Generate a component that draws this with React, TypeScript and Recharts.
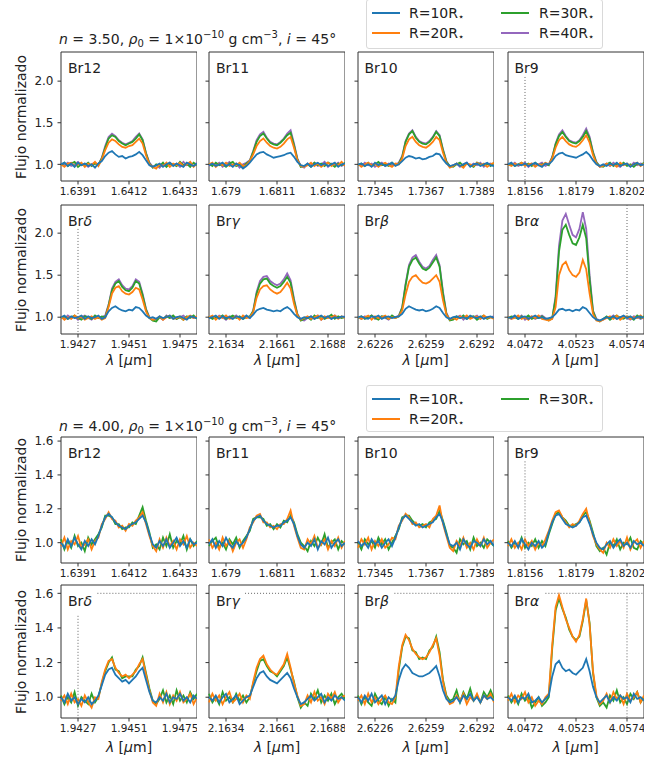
import { LineChart, Line, XAxis, YAxis, ReferenceArea, ReferenceLine } from "recharts";

// tick labels (wavelength, micron)
const br12Ticks = ["1.6391", "1.6412", "1.6433"];
const br11Ticks = ["1.679", "1.6811", "1.6832"];
const br10Ticks = ["1.7345", "1.7367", "1.7389"];
const br9Ticks = ["1.8156", "1.8179", "1.8202"];
const brDeltaTicks = ["1.9427", "1.9451", "1.9475"];
const brGammaTicks = ["2.1634", "2.1661", "2.1688"];
const brBetaTicks = ["2.6226", "2.6259", "2.6292"];
const brAlphaTicks = ["4.0472", "4.0523", "4.0574"];

const topYTicks = [1.0, 1.5, 2.0];
const bottomYTicks = [1.0, 1.2, 1.4, 1.6];

// n = 3.50 spectra (41 samples each)
const n350Br12R10 = [1.00, 1.02, 0.98, 1.01, 0.97, 1.02, 0.99, 1.01, 0.98, 1.00, 0.96, 1.01, 1.04, 1.10, 1.14, 1.16, 1.12, 1.09, 1.10, 1.07, 1.09, 1.10, 1.12, 1.15, 1.11, 1.05, 0.99, 0.97, 0.99, 1.01, 0.97, 1.00, 1.02, 0.98, 1.01, 0.99, 0.97, 1.02, 1.00, 0.98, 1.01];
const n350Br12R20 = [1.00, 0.97, 1.01, 1.02, 0.98, 1.00, 1.02, 0.97, 1.01, 0.99, 1.03, 0.98, 1.06, 1.17, 1.26, 1.30, 1.28, 1.24, 1.21, 1.20, 1.22, 1.23, 1.27, 1.31, 1.25, 1.11, 1.00, 0.97, 0.95, 1.00, 0.98, 1.02, 0.97, 1.01, 0.99, 1.02, 0.98, 1.00, 1.03, 0.97, 1.01];
const n350Br12R30 = [0.99, 1.02, 0.98, 1.01, 1.03, 0.97, 1.00, 0.99, 1.02, 0.98, 1.01, 1.00, 1.07, 1.20, 1.31, 1.35, 1.33, 1.28, 1.25, 1.23, 1.25, 1.27, 1.31, 1.36, 1.29, 1.13, 1.01, 0.96, 1.00, 0.98, 1.02, 0.97, 1.01, 1.00, 0.98, 1.03, 0.99, 1.01, 0.97, 1.02, 0.99];
const n350Br12R40 = [1.01, 0.99, 1.02, 0.98, 1.00, 1.03, 0.99, 1.01, 0.97, 1.00, 1.02, 0.99, 1.08, 1.22, 1.33, 1.37, 1.34, 1.29, 1.26, 1.24, 1.26, 1.28, 1.33, 1.37, 1.30, 1.14, 1.02, 0.97, 0.99, 0.96, 1.01, 0.98, 1.02, 0.99, 1.01, 0.97, 1.03, 0.99, 1.00, 0.98, 1.02];

const n350Br11R10 = [0.99, 1.01, 0.98, 1.00, 1.02, 0.98, 1.00, 0.97, 1.01, 0.99, 0.95, 0.98, 1.02, 1.07, 1.12, 1.14, 1.15, 1.12, 1.10, 1.08, 1.09, 1.10, 1.11, 1.13, 1.14, 1.09, 1.03, 0.99, 0.98, 1.01, 0.97, 1.00, 1.02, 0.99, 1.01, 0.98, 1.00, 1.02, 0.97, 1.00, 1.01];
const n350Br11R20 = [1.00, 1.02, 0.97, 1.01, 0.99, 1.02, 0.98, 1.00, 0.99, 1.02, 0.98, 0.99, 1.04, 1.12, 1.22, 1.28, 1.31, 1.26, 1.22, 1.20, 1.19, 1.21, 1.25, 1.30, 1.33, 1.20, 1.05, 0.98, 0.97, 0.99, 1.02, 0.98, 1.01, 0.97, 1.00, 1.02, 0.98, 1.01, 0.99, 1.03, 0.98];
const n350Br11R30 = [1.01, 0.98, 1.02, 0.99, 1.00, 0.97, 1.01, 1.03, 0.98, 1.00, 0.97, 1.01, 1.04, 1.15, 1.27, 1.34, 1.37, 1.31, 1.26, 1.24, 1.23, 1.26, 1.30, 1.35, 1.38, 1.23, 1.06, 0.97, 0.98, 1.00, 0.97, 1.02, 0.99, 1.01, 0.98, 1.02, 1.00, 0.97, 1.01, 0.99, 1.02];
const n350Br11R40 = [0.98, 1.01, 0.99, 1.02, 0.97, 1.00, 1.03, 0.98, 1.01, 0.96, 1.00, 1.02, 1.05, 1.16, 1.29, 1.36, 1.39, 1.32, 1.27, 1.25, 1.24, 1.27, 1.31, 1.37, 1.41, 1.25, 1.07, 0.98, 0.96, 1.01, 0.99, 1.02, 0.98, 1.00, 1.03, 0.97, 1.01, 0.99, 1.02, 0.98, 1.00];

const n350Br10R10 = [1.00, 1.01, 0.98, 1.00, 0.97, 1.02, 0.99, 1.01, 0.98, 1.00, 1.02, 0.98, 1.00, 1.04, 1.08, 1.10, 1.09, 1.07, 1.08, 1.06, 1.07, 1.09, 1.10, 1.13, 1.12, 1.06, 1.01, 0.98, 0.99, 1.01, 0.98, 1.00, 1.02, 0.97, 1.00, 1.01, 0.98, 1.00, 1.02, 0.99, 0.98];
const n350Br10R20 = [1.01, 0.97, 1.00, 1.02, 0.99, 1.01, 0.97, 1.00, 1.02, 0.99, 0.97, 1.01, 1.00, 1.07, 1.22, 1.30, 1.33, 1.27, 1.23, 1.21, 1.20, 1.23, 1.27, 1.33, 1.29, 1.14, 1.02, 0.96, 0.98, 1.01, 0.99, 0.96, 1.01, 1.00, 0.98, 1.02, 0.99, 1.01, 0.97, 1.00, 1.02];
const n350Br10R30 = [0.99, 1.01, 0.98, 1.02, 0.98, 1.00, 1.03, 0.99, 1.00, 0.98, 1.02, 0.99, 1.01, 1.09, 1.27, 1.36, 1.40, 1.32, 1.27, 1.25, 1.24, 1.27, 1.32, 1.39, 1.34, 1.17, 1.03, 0.98, 0.97, 1.00, 1.02, 0.98, 1.01, 0.99, 0.97, 1.02, 1.00, 0.99, 1.01, 0.98, 1.02];
const n350Br10R40 = [1.00, 0.98, 1.02, 0.99, 1.01, 0.97, 1.00, 1.02, 0.98, 1.01, 0.99, 1.00, 1.02, 1.10, 1.28, 1.37, 1.41, 1.33, 1.28, 1.26, 1.25, 1.28, 1.33, 1.40, 1.35, 1.18, 1.04, 0.97, 0.99, 1.01, 0.97, 1.00, 1.02, 0.98, 1.01, 0.99, 1.02, 0.97, 1.00, 1.01, 0.98];

const n350Br9R10 = [1.00, 1.02, 0.98, 1.00, 0.99, 1.01, 0.98, 1.00, 1.02, 0.99, 0.97, 1.01, 1.00, 1.04, 1.10, 1.13, 1.14, 1.11, 1.10, 1.09, 1.08, 1.10, 1.12, 1.15, 1.11, 1.05, 1.00, 0.98, 1.00, 0.98, 1.01, 0.99, 1.02, 0.98, 1.00, 1.01, 0.97, 1.00, 1.02, 0.99, 1.00];
const n350Br9R20 = [1.00, 0.98, 1.01, 0.99, 1.02, 0.98, 1.00, 1.01, 0.97, 1.00, 0.99, 1.02, 1.00, 1.07, 1.20, 1.29, 1.33, 1.28, 1.24, 1.22, 1.21, 1.24, 1.29, 1.35, 1.26, 1.11, 1.01, 0.97, 0.98, 1.01, 0.99, 1.00, 0.97, 1.02, 0.99, 1.01, 0.98, 1.00, 1.02, 0.98, 1.01];
const n350Br9R30 = [0.99, 1.01, 0.98, 1.00, 1.02, 0.99, 1.01, 0.98, 1.02, 0.99, 1.00, 1.01, 0.99, 1.08, 1.24, 1.34, 1.39, 1.33, 1.28, 1.26, 1.25, 1.28, 1.33, 1.40, 1.31, 1.14, 1.02, 0.98, 0.97, 1.00, 1.02, 0.98, 1.01, 0.99, 1.02, 0.98, 1.00, 0.97, 1.01, 0.99, 1.02];
const n350Br9R40 = [1.01, 0.99, 1.02, 0.98, 1.00, 1.02, 0.97, 1.01, 0.99, 1.00, 1.02, 0.98, 1.00, 1.09, 1.25, 1.36, 1.41, 1.34, 1.29, 1.27, 1.26, 1.29, 1.35, 1.43, 1.33, 1.15, 1.03, 0.97, 0.99, 1.01, 0.98, 1.02, 0.99, 0.97, 1.01, 1.00, 0.98, 1.02, 0.99, 1.01, 1.00];

const n350BrDeltaR10 = [1.00, 1.02, 0.98, 1.01, 0.99, 1.00, 1.02, 0.98, 1.01, 0.99, 1.00, 1.02, 0.98, 1.00, 1.07, 1.11, 1.13, 1.10, 1.08, 1.07, 1.09, 1.08, 1.12, 1.11, 1.07, 1.02, 0.99, 1.00, 0.98, 1.01, 0.99, 1.00, 1.02, 0.98, 1.00, 1.01, 0.99, 0.97, 1.01, 1.00, 0.99];
const n350BrDeltaR20 = [1.01, 0.97, 1.00, 0.98, 1.02, 0.99, 1.01, 0.97, 0.99, 1.01, 0.98, 1.00, 0.97, 0.99, 1.12, 1.28, 1.35, 1.37, 1.31, 1.28, 1.27, 1.30, 1.35, 1.33, 1.21, 1.07, 0.99, 0.97, 0.98, 1.01, 0.97, 1.00, 1.02, 0.98, 0.99, 1.01, 0.97, 1.00, 1.02, 0.99, 1.01];
const n350BrDeltaR30 = [0.99, 1.01, 0.98, 1.00, 1.02, 0.99, 0.97, 1.01, 1.00, 0.98, 1.02, 0.99, 1.01, 1.00, 1.14, 1.32, 1.40, 1.43, 1.36, 1.32, 1.31, 1.35, 1.43, 1.40, 1.26, 1.09, 0.99, 0.96, 0.95, 1.00, 0.98, 1.01, 0.99, 1.02, 0.98, 1.00, 0.97, 1.01, 0.99, 1.02, 0.98];
const n350BrDeltaR40 = [1.00, 0.98, 1.02, 0.99, 1.01, 0.97, 1.00, 1.02, 0.99, 0.97, 1.01, 0.99, 1.00, 1.02, 1.15, 1.34, 1.42, 1.45, 1.38, 1.34, 1.33, 1.37, 1.45, 1.42, 1.28, 1.10, 1.00, 0.97, 0.98, 1.00, 0.97, 1.02, 0.99, 1.01, 0.98, 1.00, 1.02, 0.98, 1.01, 0.99, 1.00];

const n350BrGammaR10 = [0.99, 1.00, 1.02, 0.98, 1.01, 0.99, 1.00, 0.98, 1.01, 1.00, 0.98, 1.02, 0.99, 1.03, 1.08, 1.10, 1.11, 1.09, 1.08, 1.07, 1.08, 1.07, 1.10, 1.12, 1.09, 1.04, 1.00, 0.98, 1.00, 0.99, 1.01, 0.98, 1.00, 1.02, 0.99, 1.01, 0.98, 1.00, 0.99, 1.01, 1.00];
const n350BrGammaR20 = [1.00, 1.02, 0.97, 1.01, 0.99, 1.02, 0.98, 0.99, 1.01, 0.97, 1.02, 0.99, 1.00, 1.06, 1.23, 1.33, 1.37, 1.38, 1.33, 1.30, 1.28, 1.30, 1.35, 1.41, 1.34, 1.16, 1.02, 0.97, 0.99, 1.01, 0.98, 1.00, 1.02, 0.97, 1.01, 0.99, 1.00, 1.02, 0.98, 1.01, 0.99];
const n350BrGammaR30 = [1.01, 0.98, 1.00, 0.99, 1.02, 0.98, 1.00, 1.02, 0.99, 1.01, 0.98, 1.00, 1.01, 1.07, 1.28, 1.40, 1.45, 1.46, 1.40, 1.37, 1.35, 1.37, 1.42, 1.48, 1.41, 1.20, 1.03, 0.96, 0.98, 1.00, 0.97, 1.02, 0.99, 1.01, 0.98, 1.00, 1.03, 0.98, 1.01, 0.99, 1.00];
const n350BrGammaR40 = [0.99, 1.01, 0.98, 1.02, 1.00, 0.97, 1.01, 0.99, 1.02, 0.98, 1.00, 1.01, 0.99, 1.08, 1.30, 1.43, 1.48, 1.49, 1.43, 1.40, 1.38, 1.40, 1.45, 1.52, 1.44, 1.22, 1.04, 0.97, 0.96, 0.99, 1.01, 0.98, 1.02, 0.97, 1.00, 1.01, 0.98, 1.02, 0.99, 1.00, 1.01];

const n350BrBetaR10 = [1.00, 1.01, 0.99, 0.98, 1.01, 1.00, 1.02, 0.98, 1.00, 1.01, 0.99, 1.00, 1.01, 1.04, 1.10, 1.13, 1.11, 1.09, 1.08, 1.09, 1.07, 1.08, 1.10, 1.13, 1.11, 1.05, 1.00, 0.98, 1.00, 1.01, 0.99, 1.00, 0.98, 1.02, 1.00, 0.99, 1.01, 0.98, 1.00, 1.01, 0.99];
const n350BrBetaR20 = [1.01, 0.98, 1.00, 1.02, 0.97, 1.01, 0.99, 1.00, 1.02, 0.98, 1.00, 0.99, 1.01, 1.08, 1.27, 1.42, 1.48, 1.50, 1.45, 1.41, 1.40, 1.42, 1.46, 1.50, 1.42, 1.20, 1.03, 0.97, 0.99, 0.97, 1.01, 0.99, 1.02, 0.98, 1.00, 1.01, 0.98, 1.02, 0.99, 1.00, 0.98];
const n350BrBetaR30 = [0.99, 1.01, 0.98, 1.00, 1.02, 0.99, 0.97, 1.01, 1.00, 0.98, 1.02, 0.99, 1.01, 1.11, 1.38, 1.60, 1.68, 1.71, 1.64, 1.58, 1.56, 1.59, 1.65, 1.71, 1.60, 1.28, 1.04, 0.96, 0.97, 1.01, 0.99, 1.02, 0.98, 1.00, 1.01, 0.97, 1.00, 1.02, 0.98, 1.00, 0.99];
const n350BrBetaR40 = [1.00, 0.98, 1.01, 0.99, 1.02, 0.98, 1.00, 1.01, 0.99, 0.97, 1.01, 1.00, 1.02, 1.12, 1.40, 1.62, 1.71, 1.74, 1.66, 1.60, 1.58, 1.61, 1.68, 1.74, 1.62, 1.30, 1.05, 0.97, 0.98, 1.00, 1.02, 0.97, 1.01, 0.99, 1.00, 1.02, 0.98, 1.01, 0.99, 1.00, 1.01];

const n350BrAlphaR10 = [1.00, 0.99, 1.02, 0.98, 1.00, 1.01, 0.98, 1.00, 1.02, 0.99, 1.00, 0.98, 0.99, 1.00, 1.04, 1.09, 1.10, 1.08, 1.09, 1.07, 1.09, 1.08, 1.12, 1.10, 1.05, 1.00, 0.97, 0.96, 0.98, 1.00, 0.99, 1.01, 0.98, 1.00, 1.02, 0.99, 1.01, 0.98, 1.00, 1.01, 0.99];
const n350BrAlphaR20 = [1.01, 0.98, 0.99, 1.02, 0.98, 1.00, 0.97, 1.01, 0.99, 1.02, 0.98, 0.97, 0.96, 0.98, 1.12, 1.50, 1.62, 1.66, 1.56, 1.50, 1.48, 1.53, 1.68, 1.57, 1.28, 1.04, 0.96, 0.95, 0.97, 0.99, 1.01, 0.98, 1.02, 0.97, 1.00, 1.01, 0.98, 1.00, 0.99, 1.02, 0.98];
const n350BrAlphaR30 = [0.99, 1.01, 1.00, 0.98, 1.01, 0.99, 1.02, 0.98, 1.00, 0.99, 1.01, 0.98, 0.96, 0.99, 1.22, 1.78, 2.04, 2.10, 1.98, 1.88, 1.86, 1.95, 2.10, 1.94, 1.45, 1.07, 0.97, 0.95, 0.98, 1.01, 0.97, 1.00, 1.02, 0.99, 0.98, 1.01, 1.00, 0.97, 1.02, 0.99, 1.01];
const n350BrAlphaR40 = [1.00, 0.98, 1.01, 0.99, 1.02, 0.97, 1.00, 1.01, 0.98, 1.00, 1.02, 0.99, 0.97, 0.98, 1.25, 1.85, 2.15, 2.23, 2.10, 1.98, 1.95, 2.05, 2.25, 2.05, 1.50, 1.08, 0.98, 0.96, 0.97, 1.00, 0.99, 1.02, 0.98, 1.00, 1.01, 0.99, 0.97, 1.01, 1.00, 0.98, 1.00];

// n = 4.00 spectra
const n400Br12R10 = [1.00, 0.97, 1.02, 0.98, 1.03, 0.99, 0.96, 1.01, 0.98, 1.02, 0.99, 1.04, 1.10, 1.15, 1.17, 1.15, 1.12, 1.10, 1.09, 1.08, 1.10, 1.11, 1.12, 1.14, 1.16, 1.12, 1.05, 0.99, 0.97, 1.01, 0.98, 1.02, 0.97, 1.00, 1.03, 0.98, 1.01, 0.97, 1.02, 0.99, 1.00];
const n400Br12R20 = [0.98, 1.03, 0.96, 1.01, 0.99, 1.04, 0.97, 0.99, 1.02, 0.96, 1.01, 1.03, 1.11, 1.14, 1.18, 1.14, 1.13, 1.09, 1.10, 1.07, 1.11, 1.10, 1.13, 1.15, 1.18, 1.11, 1.04, 0.98, 0.95, 1.02, 0.97, 1.03, 0.98, 1.01, 0.96, 1.02, 0.99, 1.04, 0.97, 1.00, 0.98];
const n400Br12R30 = [1.02, 0.96, 1.01, 0.97, 1.04, 0.98, 1.00, 0.95, 1.03, 0.99, 1.02, 1.05, 1.09, 1.16, 1.16, 1.15, 1.11, 1.11, 1.08, 1.09, 1.09, 1.12, 1.11, 1.16, 1.21, 1.13, 1.06, 0.97, 0.99, 0.96, 1.03, 0.98, 1.05, 0.97, 1.01, 0.99, 1.04, 0.96, 1.02, 0.98, 1.01];

const n400Br11R10 = [0.99, 1.02, 0.97, 1.01, 0.98, 1.03, 0.99, 0.97, 1.01, 0.98, 1.00, 1.03, 1.08, 1.13, 1.15, 1.16, 1.13, 1.11, 1.10, 1.09, 1.10, 1.10, 1.12, 1.13, 1.15, 1.11, 1.04, 0.99, 0.97, 1.00, 0.98, 1.02, 0.96, 1.01, 0.99, 1.03, 0.97, 1.00, 1.02, 0.98, 1.00];
const n400Br11R20 = [1.02, 0.97, 1.00, 0.96, 1.03, 0.98, 1.01, 0.95, 1.00, 1.02, 0.97, 1.02, 1.09, 1.12, 1.16, 1.17, 1.12, 1.12, 1.09, 1.10, 1.08, 1.11, 1.11, 1.14, 1.19, 1.10, 1.03, 0.97, 0.96, 1.02, 0.99, 1.04, 0.97, 0.99, 1.02, 0.96, 1.01, 0.98, 1.03, 0.97, 1.01];
const n400Br11R30 = [0.98, 1.01, 1.03, 0.97, 1.00, 0.96, 1.02, 0.99, 1.03, 0.97, 1.01, 1.04, 1.07, 1.14, 1.15, 1.15, 1.14, 1.10, 1.11, 1.08, 1.11, 1.09, 1.13, 1.12, 1.16, 1.12, 1.05, 1.00, 0.98, 0.95, 1.01, 0.98, 1.03, 0.99, 1.05, 0.97, 1.00, 1.02, 0.96, 1.01, 0.99];

const n400Br10R10 = [1.01, 0.98, 1.00, 0.97, 1.02, 0.99, 1.01, 0.97, 1.00, 1.02, 0.98, 1.03, 1.09, 1.14, 1.16, 1.14, 1.12, 1.10, 1.11, 1.09, 1.10, 1.11, 1.12, 1.15, 1.17, 1.12, 1.05, 0.99, 0.98, 1.00, 0.96, 1.02, 0.99, 0.97, 1.01, 1.00, 0.98, 1.02, 0.99, 1.01, 0.98];
const n400Br10R20 = [0.97, 1.02, 0.99, 1.03, 0.96, 1.01, 0.98, 1.02, 0.97, 0.99, 1.03, 1.02, 1.10, 1.13, 1.17, 1.15, 1.11, 1.12, 1.09, 1.10, 1.11, 1.09, 1.14, 1.16, 1.22, 1.11, 1.04, 0.97, 0.95, 1.01, 0.98, 1.03, 0.97, 1.00, 0.96, 1.02, 0.98, 1.03, 0.97, 1.00, 1.02];
const n400Br10R30 = [1.00, 0.96, 1.02, 0.99, 1.01, 0.97, 1.03, 0.99, 1.02, 0.96, 1.00, 1.04, 1.08, 1.15, 1.16, 1.16, 1.13, 1.11, 1.10, 1.11, 1.09, 1.12, 1.13, 1.14, 1.19, 1.13, 1.06, 0.98, 0.97, 0.94, 1.02, 0.99, 1.01, 0.96, 1.03, 0.98, 1.00, 0.97, 1.02, 1.00, 0.98];

const n400Br9R10 = [1.00, 0.98, 1.01, 0.97, 1.02, 0.99, 0.96, 1.00, 0.98, 1.01, 0.97, 0.99, 1.06, 1.12, 1.16, 1.17, 1.14, 1.11, 1.10, 1.09, 1.10, 1.12, 1.15, 1.16, 1.11, 1.05, 1.00, 0.97, 0.96, 0.99, 1.01, 0.97, 1.00, 1.02, 0.98, 1.00, 0.97, 1.01, 0.99, 1.00, 0.98];
const n400Br9R20 = [0.98, 1.02, 0.97, 1.00, 0.96, 1.02, 0.98, 1.01, 0.96, 1.00, 0.98, 1.02, 1.07, 1.13, 1.18, 1.19, 1.15, 1.12, 1.09, 1.11, 1.10, 1.13, 1.17, 1.20, 1.12, 1.04, 0.99, 0.96, 0.94, 1.00, 0.97, 1.02, 0.98, 1.01, 0.97, 1.03, 0.96, 1.00, 1.02, 0.97, 1.01];
const n400Br9R30 = [1.01, 0.97, 1.00, 0.98, 1.03, 0.97, 1.00, 0.98, 1.02, 0.97, 1.01, 0.98, 1.05, 1.11, 1.17, 1.18, 1.15, 1.13, 1.10, 1.10, 1.11, 1.12, 1.16, 1.18, 1.13, 1.06, 0.98, 0.95, 0.97, 0.93, 1.00, 0.98, 1.02, 0.96, 1.00, 0.99, 1.03, 0.97, 0.96, 1.01, 0.99];

const n400BrDeltaR10 = [1.00, 0.97, 1.02, 0.98, 1.00, 0.96, 0.99, 0.97, 1.00, 0.96, 0.98, 1.01, 1.07, 1.13, 1.16, 1.17, 1.13, 1.11, 1.09, 1.10, 1.08, 1.10, 1.12, 1.15, 1.17, 1.10, 1.03, 0.98, 0.97, 1.00, 0.98, 1.02, 0.97, 1.00, 0.99, 1.02, 0.98, 1.00, 0.97, 1.01, 0.99];
const n400BrDeltaR20 = [0.98, 1.01, 0.96, 1.02, 0.97, 0.99, 0.95, 1.01, 0.97, 0.94, 1.00, 0.99, 1.09, 1.16, 1.21, 1.22, 1.17, 1.14, 1.12, 1.13, 1.11, 1.13, 1.15, 1.19, 1.22, 1.13, 1.04, 0.97, 0.95, 1.02, 0.97, 1.03, 0.96, 1.01, 0.98, 1.03, 0.97, 0.99, 1.02, 0.96, 1.00];
const n400BrDeltaR30 = [1.01, 0.96, 1.00, 0.97, 1.03, 0.95, 1.00, 0.98, 0.96, 1.02, 0.97, 1.00, 1.08, 1.15, 1.20, 1.23, 1.16, 1.15, 1.11, 1.12, 1.12, 1.12, 1.16, 1.18, 1.23, 1.14, 1.05, 0.98, 0.96, 0.99, 1.04, 0.97, 1.01, 0.96, 1.04, 0.98, 1.01, 0.97, 1.03, 0.99, 1.02];

const n400BrGammaR10 = [1.00, 0.98, 1.01, 0.97, 1.00, 1.02, 0.97, 0.99, 1.01, 0.96, 0.98, 1.00, 1.01, 1.06, 1.11, 1.14, 1.15, 1.12, 1.10, 1.09, 1.08, 1.10, 1.12, 1.14, 1.11, 1.05, 1.00, 0.96, 0.97, 0.99, 1.01, 0.98, 1.00, 1.02, 0.97, 1.00, 0.98, 1.01, 0.99, 1.00, 0.98];
const n400BrGammaR20 = [0.97, 1.02, 0.98, 1.01, 0.96, 1.00, 1.03, 0.97, 0.99, 1.02, 0.97, 1.01, 0.99, 1.09, 1.17, 1.22, 1.24, 1.19, 1.16, 1.14, 1.13, 1.16, 1.19, 1.25, 1.17, 1.08, 1.01, 0.95, 0.96, 1.01, 0.97, 1.03, 0.98, 1.00, 0.96, 1.02, 0.99, 1.03, 0.97, 1.00, 1.01];
const n400BrGammaR30 = [1.02, 0.97, 1.00, 0.96, 1.03, 0.98, 1.00, 0.97, 1.02, 0.98, 1.01, 0.97, 1.00, 1.08, 1.15, 1.21, 1.22, 1.18, 1.15, 1.14, 1.12, 1.15, 1.18, 1.23, 1.16, 1.09, 1.00, 0.94, 0.97, 0.95, 1.02, 0.99, 1.04, 0.97, 1.01, 0.98, 1.02, 0.96, 1.00, 1.02, 0.99];

const n400BrBetaR10 = [1.00, 0.97, 1.01, 0.98, 1.02, 0.97, 0.99, 1.01, 0.96, 1.00, 0.98, 1.01, 1.10, 1.16, 1.19, 1.17, 1.14, 1.13, 1.12, 1.12, 1.13, 1.14, 1.16, 1.18, 1.12, 1.04, 0.99, 0.97, 0.98, 1.00, 0.97, 1.01, 0.99, 1.02, 0.98, 1.00, 0.97, 1.01, 0.99, 1.00, 0.98];
const n400BrBetaR20 = [0.98, 1.01, 0.96, 1.02, 0.97, 1.00, 0.96, 0.99, 1.01, 0.97, 0.96, 1.00, 1.18, 1.30, 1.36, 1.33, 1.28, 1.25, 1.23, 1.22, 1.23, 1.26, 1.30, 1.34, 1.24, 1.09, 1.00, 0.96, 0.97, 1.01, 0.98, 1.02, 0.96, 1.00, 0.98, 1.02, 0.97, 1.01, 0.99, 1.02, 0.97];
const n400BrBetaR30 = [1.01, 0.96, 1.00, 0.97, 0.95, 1.02, 0.98, 0.96, 1.00, 0.95, 0.99, 0.97, 1.16, 1.29, 1.35, 1.34, 1.27, 1.26, 1.22, 1.23, 1.22, 1.27, 1.29, 1.35, 1.26, 1.10, 1.01, 0.98, 0.99, 1.04, 0.97, 1.03, 0.99, 1.05, 0.98, 1.01, 0.97, 1.03, 1.00, 1.04, 0.99];

const n400BrAlphaR10 = [1.00, 0.98, 1.01, 0.97, 1.00, 0.99, 1.02, 0.97, 0.98, 1.00, 0.97, 0.99, 1.01, 1.12, 1.19, 1.21, 1.17, 1.15, 1.16, 1.14, 1.13, 1.15, 1.17, 1.22, 1.15, 1.06, 1.00, 0.97, 0.99, 1.01, 0.97, 1.00, 0.98, 1.01, 0.99, 1.00, 0.97, 1.02, 0.99, 1.00, 0.98];
const n400BrAlphaR20 = [0.98, 1.02, 0.97, 1.01, 0.99, 1.03, 0.97, 1.00, 0.95, 0.98, 0.96, 1.00, 1.02, 1.30, 1.52, 1.59, 1.52, 1.45, 1.40, 1.35, 1.32, 1.36, 1.45, 1.57, 1.42, 1.15, 1.01, 0.96, 0.98, 1.02, 0.97, 1.03, 0.99, 1.01, 0.96, 1.02, 0.98, 1.00, 1.03, 0.97, 1.01];
const n400BrAlphaR30 = [1.01, 0.97, 1.00, 0.96, 1.02, 0.98, 1.00, 0.94, 0.97, 1.00, 0.95, 0.97, 1.00, 1.28, 1.50, 1.57, 1.51, 1.46, 1.39, 1.35, 1.33, 1.35, 1.44, 1.56, 1.43, 1.14, 1.00, 0.95, 0.97, 0.94, 1.01, 0.98, 1.04, 0.97, 1.00, 0.96, 1.02, 0.99, 1.03, 0.97, 1.00];

const FONT = "'DejaVu Sans', sans-serif";
const INK = "#222";
const COLORS = { r10: "#1f77b4", r20: "#ff7f0e", r30: "#2ca02c", r40: "#9467bd" };

const TICK_POS = [5, 20, 35];
const COL_LEFT = [61, 209, 357.5, 507.5];
const PANEL_W = 136;
const Y_PAD = 40;
const X_PAD = 24;
const TOP_PAD = 8;

type Mark = { x?: number; y?: number; from: number; to?: number };

interface PanelSpec {
  name: string;
  greek?: string;
  ticks: string[];
  r10: number[];
  r20: number[];
  r30: number[];
  r40?: number[];
  marks?: Mark[];
}

interface PanelProps {
  spec: PanelSpec;
  col: number;
  top: number;
  height: number;
  yDomain: [number, number];
  yTicks: number[];
}

function Panel({ spec, col, top, height, yDomain, yTicks }: PanelProps) {
  const rows = spec.r10.map((v, i) => ({
    i,
    r10: v,
    r20: spec.r20[i],
    r30: spec.r30[i],
    r40: spec.r40 ? spec.r40[i] : undefined,
  }));
  const left = COL_LEFT[col];
  const order = spec.r40 ? ["r40", "r30", "r20", "r10"] : ["r30", "r20", "r10"];

  return (
    <>
      <div style={{ position: "absolute", left: left - Y_PAD, top: top - TOP_PAD }}>
        <LineChart width={PANEL_W + Y_PAD} height={height + X_PAD + TOP_PAD} data={rows} margin={{ top: TOP_PAD, right: 0, bottom: 0, left: 0 }}>
          <XAxis
            dataKey="i"
            type="number"
            domain={[0, 40]}
            ticks={TICK_POS}
            interval={0}
            height={X_PAD}
            axisLine={false}
            tickSize={3.5}
            tickMargin={3}
            tickLine={{ stroke: "#333" }}
            tick={{ fontSize: 10.5, fill: INK, fontFamily: FONT }}
            tickFormatter={(v: number) => spec.ticks[TICK_POS.indexOf(v)] ?? ""}
          />
          <YAxis
            type="number"
            domain={yDomain}
            ticks={yTicks}
            interval={0}
            width={Y_PAD}
            allowDataOverflow
            axisLine={false}
            tickSize={3.5}
            tickMargin={4}
            tickLine={{ stroke: "#333" }}
            tick={{ fontSize: 12, fill: INK, fontFamily: FONT }}
            tickFormatter={(v: number) => (col === 0 ? v.toFixed(1) : "")}
          />
          {order.map((key) => (
            <Line
              key={key}
              dataKey={key}
              type="linear"
              stroke={COLORS[key as keyof typeof COLORS]}
              strokeWidth={1.8}
              dot={false}
              isAnimationActive={false}
            />
          ))}
          {(spec.marks ?? []).map((m, k) =>
            m.x !== undefined ? (
              <ReferenceLine
                key={k}
                segment={[{ x: m.x, y: m.from }, { x: m.x, y: m.to ?? yDomain[0] }]}
                stroke="#666"
                strokeDasharray="1 2"
                strokeWidth={1}
              />
            ) : (
              <ReferenceLine
                key={k}
                segment={[{ x: m.from, y: m.y }, { x: m.to ?? 40, y: m.y }]}
                stroke="#666"
                strokeDasharray="1 2"
                strokeWidth={1}
              />
            )
          )}
          <ReferenceArea x1={0} x2={40} y1={yDomain[0]} y2={yDomain[1]} fill="none" stroke="#333" strokeWidth={1} />
        </LineChart>
      </div>
      <div style={{ position: "absolute", left: left + 7, top: top + 7, fontFamily: FONT, fontSize: 14, color: INK, lineHeight: "18px" }}>
        {spec.name}
        {spec.greek ? <i>{spec.greek}</i> : null}
      </div>
    </>
  );
}

const topRow1: PanelSpec[] = [
  { name: "Br12", ticks: br12Ticks, r10: n350Br12R10, r20: n350Br12R20, r30: n350Br12R30, r40: n350Br12R40 },
  { name: "Br11", ticks: br11Ticks, r10: n350Br11R10, r20: n350Br11R20, r30: n350Br11R30, r40: n350Br11R40 },
  { name: "Br10", ticks: br10Ticks, r10: n350Br10R10, r20: n350Br10R20, r30: n350Br10R30, r40: n350Br10R40 },
  { name: "Br9", ticks: br9Ticks, r10: n350Br9R10, r20: n350Br9R20, r30: n350Br9R30, r40: n350Br9R40, marks: [{ x: 5, from: 2.05 }] },
];
const topRow2: PanelSpec[] = [
  { name: "Br", greek: "δ", ticks: brDeltaTicks, r10: n350BrDeltaR10, r20: n350BrDeltaR20, r30: n350BrDeltaR30, r40: n350BrDeltaR40, marks: [{ x: 5, from: 2.05 }] },
  { name: "Br", greek: "γ", ticks: brGammaTicks, r10: n350BrGammaR10, r20: n350BrGammaR20, r30: n350BrGammaR30, r40: n350BrGammaR40 },
  { name: "Br", greek: "β", ticks: brBetaTicks, r10: n350BrBetaR10, r20: n350BrBetaR20, r30: n350BrBetaR30, r40: n350BrBetaR40 },
  { name: "Br", greek: "α", ticks: brAlphaTicks, r10: n350BrAlphaR10, r20: n350BrAlphaR20, r30: n350BrAlphaR30, r40: n350BrAlphaR40, marks: [{ x: 35, from: 2.335 }] },
];
const bottomRow1: PanelSpec[] = [
  { name: "Br12", ticks: br12Ticks, r10: n400Br12R10, r20: n400Br12R20, r30: n400Br12R30 },
  { name: "Br11", ticks: br11Ticks, r10: n400Br11R10, r20: n400Br11R20, r30: n400Br11R30 },
  { name: "Br10", ticks: br10Ticks, r10: n400Br10R10, r20: n400Br10R20, r30: n400Br10R30 },
  { name: "Br9", ticks: br9Ticks, r10: n400Br9R10, r20: n400Br9R20, r30: n400Br9R30, marks: [{ x: 5, from: 1.48 }] },
];
const bottomRow2: PanelSpec[] = [
  { name: "Br", greek: "δ", ticks: brDeltaTicks, r10: n400BrDeltaR10, r20: n400BrDeltaR20, r30: n400BrDeltaR30, marks: [{ x: 5, from: 1.47 }, { y: 1.6, from: 10.7 }] },
  { name: "Br", greek: "γ", ticks: brGammaTicks, r10: n400BrGammaR10, r20: n400BrGammaR20, r30: n400BrGammaR30, marks: [{ y: 1.6, from: 10.6 }] },
  { name: "Br", greek: "β", ticks: brBetaTicks, r10: n400BrBetaR10, r20: n400BrBetaR20, r30: n400BrBetaR30, marks: [{ y: 1.6, from: 10.7 }] },
  { name: "Br", greek: "α", ticks: brAlphaTicks, r10: n400BrAlphaR10, r20: n400BrAlphaR20, r30: n400BrAlphaR30, marks: [{ y: 1.6, from: 11 }, { x: 35, from: 1.6 }] },
];

function Title({ n, top }: { n: string; top: number }) {
  return (
    <div style={{ position: "absolute", left: 59, top, fontFamily: FONT, fontSize: 14, color: INK, lineHeight: "18px", whiteSpace: "nowrap" }}>
      <i>n</i> = {n}, <i>ρ</i>
      <sub style={{ fontSize: 10 }}>0</sub> = 1×10<sup style={{ fontSize: 10 }}>−10</sup> g cm<sup style={{ fontSize: 10 }}>−3</sup>, <i>i</i> = 45°
    </div>
  );
}

function LegendBox({ top, height, keys }: { top: number; height: number; keys: (keyof typeof COLORS)[] }) {
  const labels: Record<string, string> = { r10: "R=10R", r20: "R=20R", r30: "R=30R", r40: "R=40R" };
  return (
    <div style={{ position: "absolute", left: 366, top, width: 235, height, border: "1px solid #d9d9d9", borderRadius: 3, background: "#fff", fontFamily: FONT, fontSize: 14, color: INK }}>
      {keys.map((k, idx) => {
        const c = Math.floor(idx / 2);
        const r = idx % 2;
        const cy = 13 + r * 20;
        return (
          <div key={k}>
            <div style={{ position: "absolute", left: 5 + c * 129, top: cy - 1, width: 28, height: 2, background: COLORS[k] }} />
            <div style={{ position: "absolute", left: 42 + c * 130, top: cy - 9, lineHeight: "18px", whiteSpace: "nowrap" }}>
              {labels[k]}
              <span style={{ fontSize: 10, verticalAlign: "-2px" }}>⋆</span>
            </div>
          </div>
        );
      })}
    </div>
  );
}

function YLabel({ cy }: { cy: number }) {
  return (
    <div style={{ position: "absolute", left: 21, top: cy, transform: "translate(-50%, -50%) rotate(-90deg)", fontFamily: FONT, fontSize: 14, color: INK, whiteSpace: "nowrap" }}>
      Flujo normalizado
    </div>
  );
}

function XLabel({ col, cy }: { col: number; cy: number }) {
  return (
    <div style={{ position: "absolute", left: COL_LEFT[col] + PANEL_W / 2, top: cy, transform: "translate(-50%, -50%)", fontFamily: FONT, fontSize: 14, color: INK, whiteSpace: "nowrap" }}>
      <i>λ</i> [<i>μ</i>m]
    </div>
  );
}

export default function App() {
  const rows: { specs: PanelSpec[]; top: number; height: number; domain: [number, number]; ticks: number[] }[] = [
    { specs: topRow1, top: 52, height: 129, domain: [0.8, 2.35], ticks: topYTicks },
    { specs: topRow2, top: 205, height: 129, domain: [0.8, 2.335], ticks: topYTicks },
    { specs: bottomRow1, top: 437, height: 126, domain: [0.88, 1.624], ticks: bottomYTicks },
    { specs: bottomRow2, top: 585, height: 133, domain: [0.88, 1.648], ticks: bottomYTicks },
  ];
  return (
    <div style={{ position: "absolute", left: 0, top: 0, width: 665, height: 758, background: "#fff", overflow: "hidden" }}>
      <Title n="3.50" top={26} />
      <Title n="4.00" top={413} />
      <LegendBox top={-1} height={48} keys={["r10", "r20", "r30", "r40"]} />
      <LegendBox top={385} height={45} keys={["r10", "r20", "r30"]} />
      {rows.map((row, ri) => (
        <div key={ri}>
          <YLabel cy={row.top + row.height / 2} />
          {row.specs.map((spec, ci) => (
            <Panel key={ci} spec={spec} col={ci} top={row.top} height={row.height} yDomain={row.domain} yTicks={row.ticks} />
          ))}
        </div>
      ))}
      {[0, 1, 2, 3].map((c) => (
        <XLabel key={"a" + c} col={c} cy={360} />
      ))}
      {[0, 1, 2, 3].map((c) => (
        <XLabel key={"b" + c} col={c} cy={747} />
      ))}
    </div>
  );
}
